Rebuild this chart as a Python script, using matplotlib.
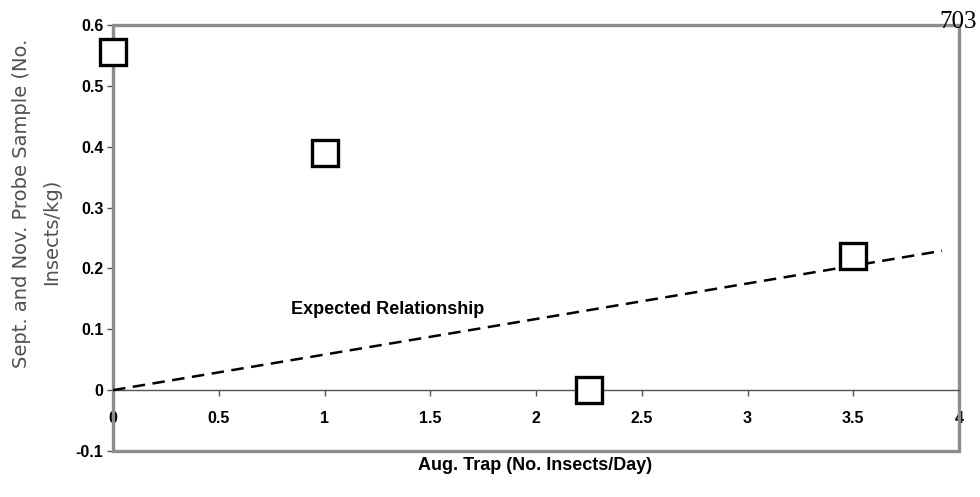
import matplotlib
matplotlib.use("Agg")
import matplotlib.pyplot as plt
from matplotlib.patches import Rectangle
from matplotlib.ticker import FuncFormatter

# Data
aug_trap = [0.0, 1.0, 2.25, 3.5]
probe_sample = [0.555, 0.39, 0.0, 0.22]
expected_x = [0.0, 3.92]
expected_y = [0.0, 0.229]
x_ticks = [0, 0.5, 1, 1.5, 2, 2.5, 3, 3.5, 4]
y_ticks = [-0.1, 0, 0.1, 0.2, 0.3, 0.4, 0.5, 0.6]

plt.rcParams['font.family'] = ['Liberation Sans', 'DejaVu Sans']

fig = plt.figure(figsize=(9.8, 4.97), dpi=100)
ax = fig.add_axes([113/980, 1-451/497, (959-113)/980, (451-25)/497])

ax.set_xlim(0, 4)
ax.set_ylim(-0.1, 0.6)

# expected relationship dashed line
ax.plot(expected_x, expected_y, color='black', lw=1.8,
        linestyle=(0, (5.0, 3.0)), zorder=3)

# observed points
ax.plot(aug_trap, probe_sample, linestyle='none', marker='s', markersize=18.5,
        mfc='white', mec='black', mew=2.4, clip_on=False, zorder=5)

# spines
for s in ['top', 'right', 'left']:
    ax.spines[s].set_visible(False)
ax.spines['bottom'].set_position(('data', 0))
ax.spines['bottom'].set_color('#555555')
ax.spines['bottom'].set_linewidth(1.0)

frame = Rectangle((0, 0), 1, 1, transform=ax.transAxes, fill=False,
                  edgecolor='#8c8c8c', lw=2.4, clip_on=False, zorder=2)
ax.add_patch(frame)

fmt = FuncFormatter(lambda v, p: '%g' % v)
ax.set_xticks(x_ticks)
ax.set_yticks(y_ticks)
ax.xaxis.set_major_formatter(fmt)
ax.yaxis.set_major_formatter(fmt)
ax.tick_params(axis='x', direction='out', length=4, width=1, color='#555555',
               pad=11, labelsize=11.5)
ax.tick_params(axis='y', direction='out', length=4, width=1, color='#555555',
               pad=3, labelsize=11.5)
for lab in ax.get_xticklabels() + ax.get_yticklabels():
    lab.set_fontweight('bold')

ax.text(1.30, 0.133, 'Expected Relationship', fontsize=13, fontweight='bold',
        ha='center', va='center')

fig.text(535/980, 1-465/497, 'Aug. Trap (No. Insects/Day)', fontsize=13,
         fontweight='bold', ha='center', va='center')

fig.text(22/980, 1-203/497, 'Sept. and Nov. Probe Sample (No.', fontsize=14,
         rotation=90, ha='center', va='center', color='#505050',
         family='DejaVu Sans')
fig.text(52/980, 1-232/497, 'Insects/kg)', fontsize=14,
         rotation=90, ha='center', va='center', color='#505050',
         family='DejaVu Sans')

fig.text(939/980, 1-28/497, '703', fontsize=18, family='Liberation Serif',
         ha='left', va='baseline')

fig.savefig('out.png', dpi=100)
